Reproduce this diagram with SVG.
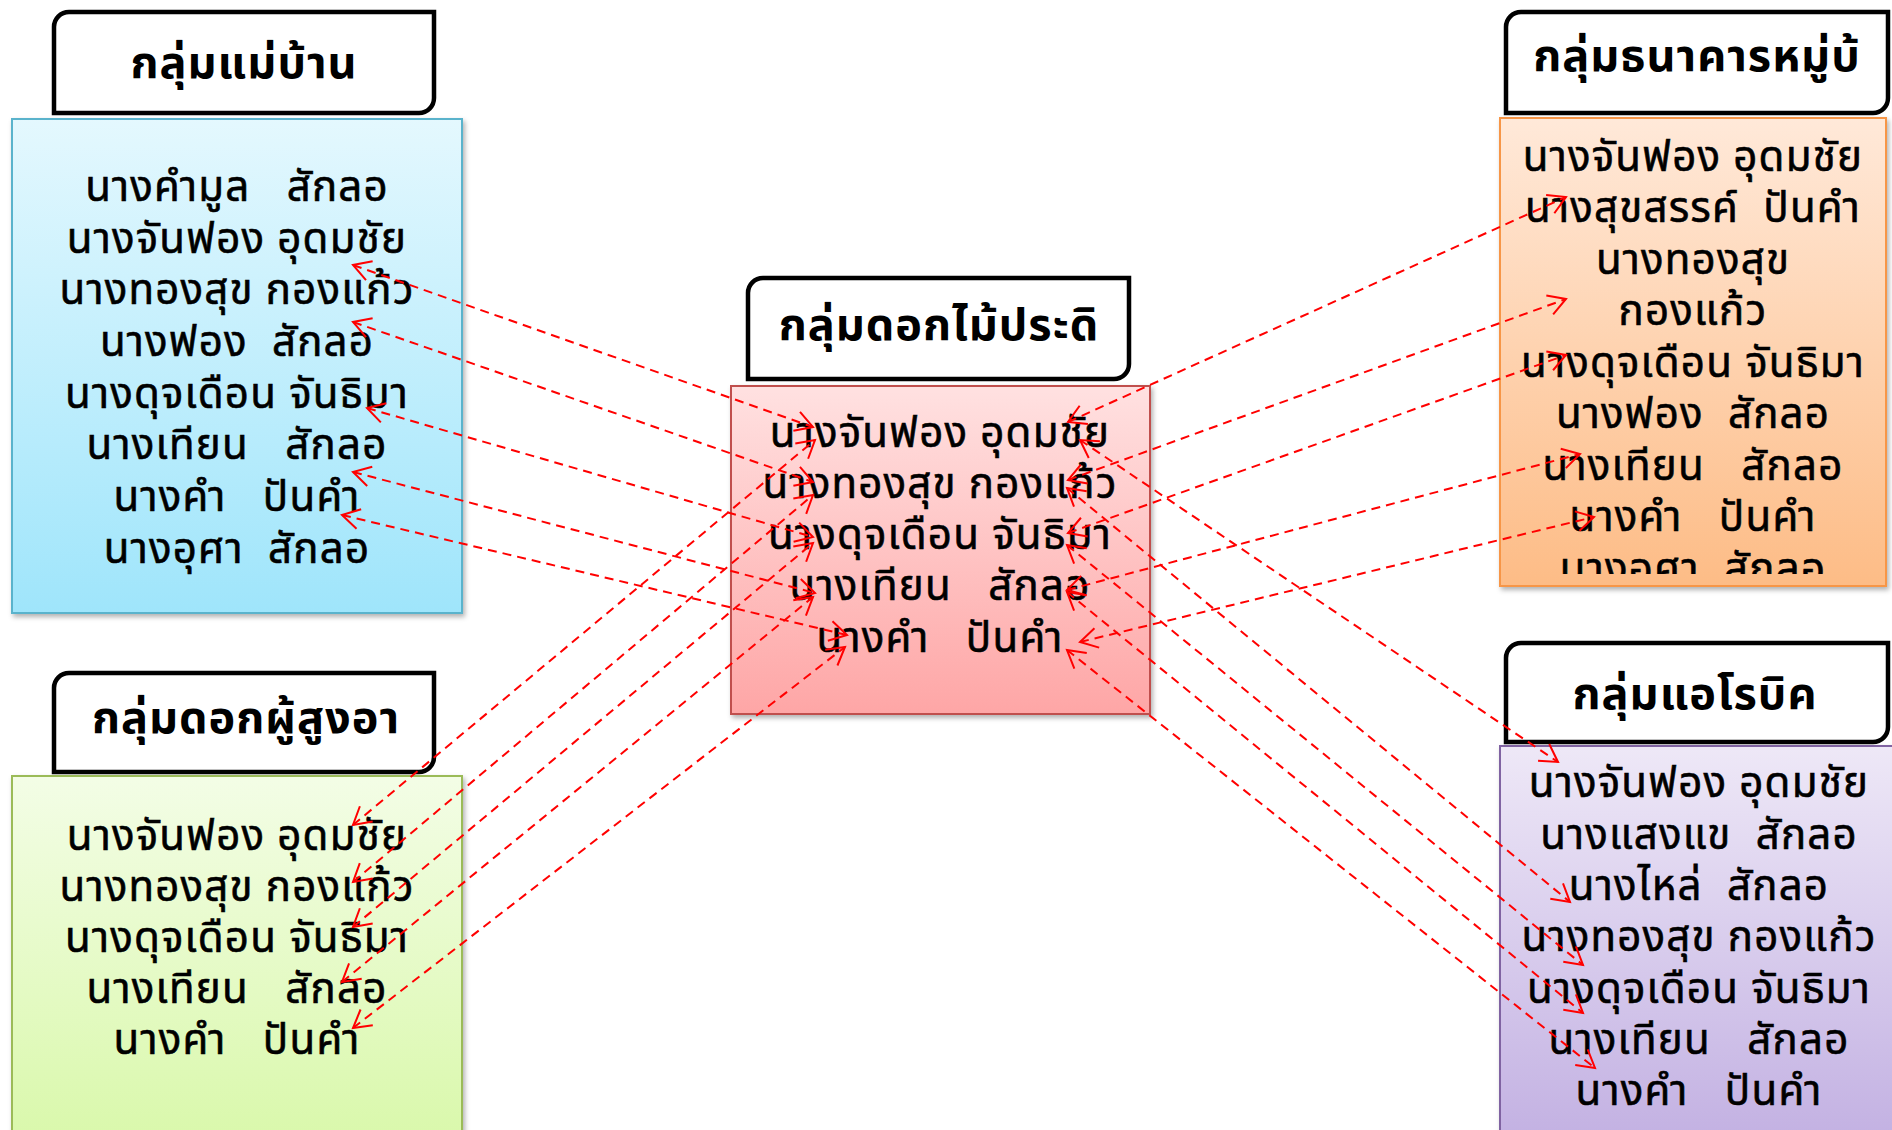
<svg xmlns="http://www.w3.org/2000/svg" width="1892" height="1130" viewBox="0 0 1892 1130">
<style>
.t{font-family:"Tahoma","Noto Sans Thai","DejaVu Sans","Noto Sans",sans-serif;font-size:42px;letter-spacing:1.2px;fill:#000;stroke:#000;stroke-width:0.6;text-anchor:middle;white-space:pre}
.h{font-family:"Tahoma","Noto Sans Thai","DejaVu Sans","Noto Sans",sans-serif;font-size:45px;letter-spacing:1px;font-weight:bold;fill:#000;text-anchor:middle}
.ttl{fill:#fff;stroke:#000;stroke-width:4.5}
.c{fill:none;stroke:#ff0000;stroke-width:2;stroke-dasharray:9 6;marker-start:url(#ah);marker-end:url(#ah)}
</style>
<defs>
<marker id="ah" markerUnits="userSpaceOnUse" viewBox="-20 -12 22 24" refX="0" refY="0" markerWidth="22" markerHeight="24" orient="auto-start-reverse" overflow="visible">
<path d="M-17.3,-10 L0,0 L-17.3,10" fill="none" stroke="#ff0000" stroke-width="2"/>
</marker>
<filter id="sh" x="-5%" y="-5%" width="115%" height="115%"><feDropShadow dx="2" dy="3" stdDeviation="2.5" flood-color="#000" flood-opacity="0.3"/></filter>
<linearGradient id="gB" x1="0" y1="0" x2="0" y2="1"><stop offset="0" stop-color="#e4f8fe"/><stop offset="1" stop-color="#9fe5fb"/></linearGradient>
<linearGradient id="gG" x1="0" y1="0" x2="0" y2="1"><stop offset="0" stop-color="#f3fde6"/><stop offset="1" stop-color="#d9f8aa"/></linearGradient>
<linearGradient id="gP" x1="0" y1="0" x2="0" y2="1"><stop offset="0" stop-color="#ffe1e1"/><stop offset="1" stop-color="#fea6a6"/></linearGradient>
<linearGradient id="gO" x1="0" y1="0" x2="0" y2="1"><stop offset="0" stop-color="#ffe9d9"/><stop offset="1" stop-color="#fdbc86"/></linearGradient>
<linearGradient id="gV" x1="0" y1="0" x2="0" y2="1"><stop offset="0" stop-color="#eee8f7"/><stop offset="1" stop-color="#c2b0e2"/></linearGradient>
<clipPath id="clipO"><rect x="1500" y="118" width="386" height="456"/></clipPath>
</defs>

<g id="node-maeban">
<path class="ttl" d="M69,12 H434 V98 A15,15 0 0 1 419,113 H54 V27 A15,15 0 0 1 69,12 Z"/>
<text class="h" x="244" y="78">กลุ่มแม่บ้าน</text>
<rect x="12" y="119" width="450" height="494" fill="url(#gB)" stroke="#5ab3cc" stroke-width="2" filter="url(#sh)"/>
<text class="t" x="237" y="201">นางคำมูล   สักลอ</text>
<text class="t" x="237" y="253">นางจันฟอง อุดมชัย</text>
<text class="t" x="237" y="304">นางทองสุข กองแก้ว</text>
<text class="t" x="237" y="356">นางฟอง  สักลอ</text>
<text class="t" x="237" y="408">นางดุจเดือน จันธิมา</text>
<text class="t" x="237" y="459">นางเทียน   สักลอ</text>
<text class="t" x="237" y="511">นางคำ   ปันคำ</text>
<text class="t" x="237" y="563">นางอุศา  สักลอ</text>
</g>

<g id="node-phusungar">
<path class="ttl" d="M69,673 H434 V757 A15,15 0 0 1 419,772 H54 V688 A15,15 0 0 1 69,673 Z"/>
<text class="h" x="246" y="733">กลุ่มดอกผู้สูงอา</text>
<rect x="12" y="776" width="450" height="370" fill="url(#gG)" stroke="#9bbb59" stroke-width="2" filter="url(#sh)"/>
<text class="t" x="237" y="850">นางจันฟอง อุดมชัย</text>
<text class="t" x="237" y="901">นางทองสุข กองแก้ว</text>
<text class="t" x="237" y="952">นางดุจเดือน จันธิมา</text>
<text class="t" x="237" y="1003">นางเทียน   สักลอ</text>
<text class="t" x="237" y="1054">นางคำ   ปันคำ</text>
</g>

<g id="node-dokmai">
<path class="ttl" d="M763,278 H1129 V364 A15,15 0 0 1 1114,379 H748 V293 A15,15 0 0 1 763,278 Z"/>
<text class="h" x="939" y="340">กลุ่มดอกไม้ประดิ</text>
<rect x="731" y="386" width="419" height="328" fill="url(#gP)" stroke="#c0504d" stroke-width="2" filter="url(#sh)"/>
<text class="t" x="940" y="447">นางจันฟอง อุดมชัย</text>
<text class="t" x="940" y="498">นางทองสุข กองแก้ว</text>
<text class="t" x="940" y="549">นางดุจเดือน จันธิมา</text>
<text class="t" x="940" y="600">นางเทียน   สักลอ</text>
<text class="t" x="940" y="652">นางคำ   ปันคำ</text>
</g>

<g id="node-thanakhan">
<path class="ttl" d="M1521,12 H1888 V98 A15,15 0 0 1 1873,113 H1506 V27 A15,15 0 0 1 1521,12 Z"/>
<text class="h" x="1697" y="71">กลุ่มธนาคารหมู่บ้</text>
<rect x="1500" y="118" width="386" height="468" fill="url(#gO)" stroke="#f79646" stroke-width="2" filter="url(#sh)"/>
<g clip-path="url(#clipO)">
<text class="t" x="1693" y="171">นางจันฟอง อุดมชัย</text>
<text class="t" x="1693" y="222">นางสุขสรรค์  ปันคำ</text>
<text class="t" x="1693" y="274">นางทองสุข</text>
<text class="t" x="1693" y="325">กองแก้ว</text>
<text class="t" x="1693" y="377">นางดุจเดือน จันธิมา</text>
<text class="t" x="1693" y="428">นางฟอง  สักลอ</text>
<text class="t" x="1693" y="480">นางเทียน   สักลอ</text>
<text class="t" x="1693" y="531">นางคำ   ปันคำ</text>
<text class="t" x="1693" y="583">นางอุศา  สักลอ</text>
</g>
</g>

<g id="node-aerobic">
<path class="ttl" d="M1521,643 H1888 V727 A15,15 0 0 1 1873,742 H1506 V658 A15,15 0 0 1 1521,643 Z"/>
<text class="h" x="1695" y="709">กลุ่มแอโรบิค</text>
<rect x="1500" y="746" width="400" height="400" fill="url(#gV)" stroke="#8064a2" stroke-width="2" filter="url(#sh)"/>
<text class="t" x="1699" y="797">นางจันฟอง อุดมชัย</text>
<text class="t" x="1699" y="849">นางแสงแข  สักลอ</text>
<text class="t" x="1699" y="900">นางไหล่  สักลอ</text>
<text class="t" x="1699" y="951">นางทองสุข กองแก้ว</text>
<text class="t" x="1699" y="1003">นางดุจเดือน จันธิมา</text>
<text class="t" x="1699" y="1054">นางเทียน   สักลอ</text>
<text class="t" x="1699" y="1105">นางคำ   ปันคำ</text>
</g>

<g id="connectors">
<line class="c" x1="353" y1="265" x2="813" y2="427"/>
<line class="c" x1="353" y1="322" x2="813" y2="482"/>
<line class="c" x1="367" y1="408" x2="813" y2="537"/>
<line class="c" x1="353" y1="472" x2="815" y2="593"/>
<line class="c" x1="342" y1="515" x2="847" y2="635"/>
<line class="c" x1="353" y1="825" x2="815" y2="440"/>
<line class="c" x1="353" y1="882" x2="813" y2="495"/>
<line class="c" x1="353" y1="927" x2="813" y2="543"/>
<line class="c" x1="342" y1="982" x2="813" y2="597"/>
<line class="c" x1="353" y1="1028" x2="845" y2="647"/>
<line class="c" x1="1068" y1="422" x2="1566" y2="197"/>
<line class="c" x1="1068" y1="480" x2="1566" y2="299"/>
<line class="c" x1="1068" y1="533" x2="1566" y2="355"/>
<line class="c" x1="1067" y1="590" x2="1580" y2="454"/>
<line class="c" x1="1080" y1="642" x2="1594" y2="517"/>
<line class="c" x1="1080" y1="440" x2="1558" y2="762"/>
<line class="c" x1="1067" y1="488" x2="1570" y2="902"/>
<line class="c" x1="1067" y1="545" x2="1583" y2="965"/>
<line class="c" x1="1067" y1="592" x2="1583" y2="1013"/>
<line class="c" x1="1067" y1="650" x2="1595" y2="1068"/>
</g>
</svg>
